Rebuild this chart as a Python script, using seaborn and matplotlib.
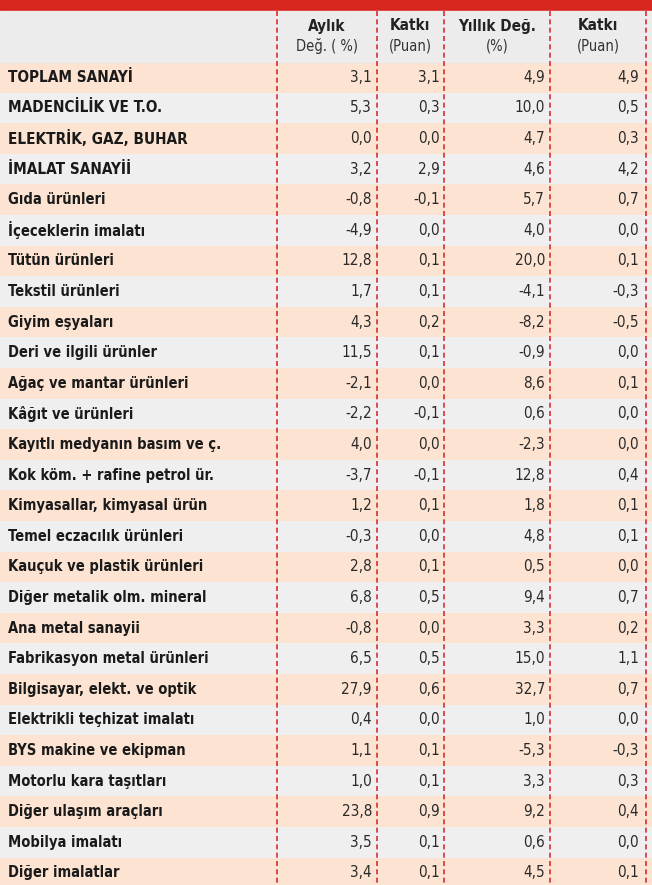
import numpy as np
import matplotlib
matplotlib.use("Agg")
import matplotlib.pyplot as plt
import seaborn as sns
from matplotlib.colors import ListedColormap

# table data
sectors = ["TOPLAM SANAYİ", "MADENCİLİK VE T.O.", "ELEKTRİK, GAZ, BUHAR", "İMALAT SANAYİİ",
           "Gıda ürünleri", "İçeceklerin imalatı", "Tütün ürünleri", "Tekstil ürünleri",
           "Giyim eşyaları", "Deri ve ilgili ürünler", "Ağaç ve mantar ürünleri",
           "Kâğıt ve ürünleri", "Kayıtlı medyanın basım ve ç.", "Kok köm. + rafine petrol ür.",
           "Kimyasallar, kimyasal ürün", "Temel eczacılık ürünleri", "Kauçuk ve plastik ürünleri",
           "Diğer metalik olm. mineral", "Ana metal sanayii", "Fabrikasyon metal ürünleri",
           "Bilgisayar, elekt. ve optik", "Elektrikli teçhizat imalatı", "BYS makine ve ekipman",
           "Motorlu kara taşıtları", "Diğer ulaşım araçları", "Mobilya imalatı", "Diğer imalatlar"]
aylik = [3.1, 5.3, 0.0, 3.2, -0.8, -4.9, 12.8, 1.7, 4.3, 11.5, -2.1, -2.2, 4.0, -3.7, 1.2,
         -0.3, 2.8, 6.8, -0.8, 6.5, 27.9, 0.4, 1.1, 1.0, 23.8, 3.5, 3.4]
katki_ay = [3.1, 0.3, 0.0, 2.9, -0.1, 0.0, 0.1, 0.1, 0.2, 0.1, 0.0, -0.1, 0.0, -0.1, 0.1,
            0.0, 0.1, 0.5, 0.0, 0.5, 0.6, 0.0, 0.1, 0.1, 0.9, 0.1, 0.1]
yillik = [4.9, 10.0, 4.7, 4.6, 5.7, 4.0, 20.0, -4.1, -8.2, -0.9, 8.6, 0.6, -2.3, 12.8, 1.8,
          4.8, 0.5, 9.4, 3.3, 15.0, 32.7, 1.0, -5.3, 3.3, 9.2, 0.6, 4.5]
katki_yil = [4.9, 0.5, 0.3, 4.2, 0.7, 0.0, 0.1, -0.3, -0.5, 0.0, 0.1, 0.0, 0.0, 0.4, 0.1,
             0.1, 0.0, 0.7, 0.2, 1.1, 0.7, 0.0, -0.3, 0.3, 0.4, 0.0, 0.1]
headers = [("Aylık", "Değ. ( %)"), ("Katkı", "(Puan)"), ("Yıllık Değ.", "(%)"), ("Katkı", "(Puan)")]

W, H = 652, 885
top, rh = 62, 30.6
fam = "DejaVu Sans"

fig = plt.figure(figsize=(W / 100, H / 100), dpi=100)

# alternating row backgrounds via heatmap
n = len(sectors)
stripe = np.array([[i % 2] for i in range(n)])
body_h = rh * n
ax_bg = fig.add_axes([0, 1 - (top + body_h) / H, 1, body_h / H])
sns.heatmap(stripe, ax=ax_bg, cmap=ListedColormap(["#fce3d2", "#efefef"]), cbar=False,
            xticklabels=False, yticklabels=False)
ax_bg.axis("off")

# overlay in pixel coordinates
ax = fig.add_axes([0, 0, 1, 1], facecolor="none")
ax.set_xlim(0, W)
ax.set_ylim(H, 0)
ax.axis("off")
ax.add_patch(plt.Rectangle((0, 0), W, 11, color="#d7261e", zorder=0))
ax.add_patch(plt.Rectangle((0, 11), W, top - 11, color="#ececec", zorder=0))

lines_x = [277, 377, 444, 550, 646]
for x in lines_x:
    ax.plot([x, x], [11, H], color="#d43030", lw=1.2, ls=(0, (3, 2)))

col_right = [372, 440, 545, 639]
col_center = [327, 410, 497, 598]
for (a, b), cx in zip(headers, col_center):
    ax.text(cx, 26, a, ha="center", va="center", fontsize=11, fontweight="bold",
            family=fam, fontstretch="condensed", color="#222222")
    ax.text(cx, 46, b, ha="center", va="center", fontsize=10.5, family=fam,
            fontstretch="condensed", color="#333333")

fmt = lambda v: f"{v:.1f}".replace(".", ",")
for i, name in enumerate(sectors):
    y = top + rh * (i + 0.5)
    ax.text(8, y, name, ha="left", va="center", fontsize=11 if i < 4 else 10.5,
            fontweight="bold", family=fam, fontstretch="condensed", color="#1a1a1a")
    for xr, vals in zip(col_right, [aylik, katki_ay, yillik, katki_yil]):
        ax.text(xr, y, fmt(vals[i]), ha="right", va="center", fontsize=11,
                family=fam, fontstretch="condensed", color="#2a2a2a")

fig.savefig("out.png", dpi=100)
